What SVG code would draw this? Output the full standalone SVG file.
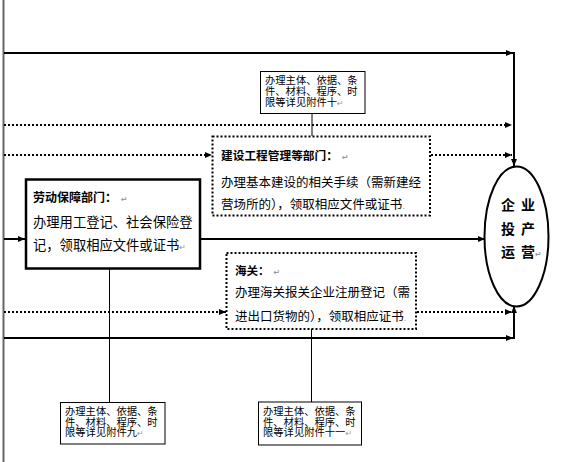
<svg xmlns="http://www.w3.org/2000/svg" width="572" height="462" viewBox="0 0 572 462">
<style>
.solid{stroke:#000;stroke-width:2;fill:none}
.dot{stroke:#000;stroke-width:2;fill:none;stroke-dasharray:2 2}
.thin{stroke:#000;stroke-width:1;fill:none}
.t{font-family:"Noto Sans CJK SC",sans-serif;fill:#000}
.b{font-weight:bold}
.n{font-family:"Noto Sans CJK SC",sans-serif;font-size:10.3px;fill:#000}
.pm{fill:#999;font-family:"DejaVu Sans",sans-serif;font-size:8px}
</style>
<defs>
<marker id="ah" markerWidth="8" markerHeight="8" refX="7" refY="4" orient="auto" markerUnits="userSpaceOnUse">
<path d="M0,1 L7,4 L0,7 Z" fill="#000"/>
</marker>
</defs>
<rect width="572" height="462" fill="#fff"/>
<g id="connectors">
<line x1="3.5" y1="0" x2="3.5" y2="462" stroke="#666" stroke-width="2"/>
<line class="solid" x1="4" y1="53" x2="513" y2="53" marker-end="url(#ah)"/>
<line class="solid" x1="514" y1="52" x2="514" y2="166" marker-end="url(#ah)"/>
<line class="dot" x1="4" y1="125" x2="512" y2="125" marker-end="url(#ah)"/>
<line class="dot" x1="4" y1="155" x2="212" y2="155" marker-end="url(#ah)"/>
<line class="dot" x1="431" y1="155" x2="512" y2="155" marker-end="url(#ah)"/>
<line class="solid" x1="4" y1="239" x2="25" y2="239" marker-end="url(#ah)"/>
<line class="solid" x1="201" y1="239" x2="485" y2="239" marker-end="url(#ah)"/>
<line class="dot" x1="4" y1="312" x2="226" y2="312" marker-end="url(#ah)"/>
<line class="dot" x1="417" y1="312" x2="512" y2="312" marker-end="url(#ah)"/>
<line class="solid" x1="4" y1="338" x2="513" y2="338" marker-end="url(#ah)"/>
<line class="solid" x1="514" y1="339" x2="514" y2="306" marker-end="url(#ah)"/>
<line class="thin" x1="312" y1="113" x2="312" y2="136"/>
<line class="thin" x1="109.5" y1="269" x2="109.5" y2="402"/>
<line class="thin" x1="311.5" y1="329" x2="311.5" y2="402"/>
</g>
<g id="note-top">
<rect class="thin" x="260.5" y="71.5" width="104.5" height="42" fill="#fff"/>
<text class="n"><tspan x="265" y="84">办理主体、依据、条</tspan><tspan x="265" y="95">件、材料、程序、时</tspan><tspan x="265" y="106">限等详见附件十<tspan class="pm">↵</tspan></tspan></text>
</g>
<g id="box-construction">
<rect class="dot" x="212.5" y="136.5" width="217.5" height="79" fill="#fff"/>
<text class="t b" x="221" y="160" font-size="11.7">建设工程管理等部门：<tspan class="pm" dx="4">↵</tspan></text>
<text class="t" x="221" y="187" font-size="12.5">办理基本建设的相关手续（需新建经</text>
<text class="t" x="221" y="209" font-size="12.5">营场所的），领取相应文件或证书<tspan class="pm">.</tspan></text>
</g>
<g id="box-labor">
<rect x="26" y="179.5" width="174" height="89" fill="#fff" stroke="#000" stroke-width="2.5"/>
<text class="t b" x="33" y="201.5" font-size="12">劳动保障部门：<tspan class="pm" dx="4">↵</tspan></text>
<text class="t" x="33" y="226.5" font-size="13.3">办理用工登记、社会保险登</text>
<text class="t" x="33" y="250" font-size="13.3">记，领取相应文件或证书<tspan class="pm">↵</tspan></text>
</g>
<g id="box-customs">
<rect class="dot" x="226.5" y="253" width="189.5" height="76" fill="#fff"/>
<text class="t b" x="235" y="275" font-size="11.5">海关：<tspan class="pm" dx="4">↵</tspan></text>
<text class="t" x="235" y="297" font-size="12.5">办理海关报关企业注册登记（需</text>
<text class="t" x="235" y="321" font-size="12.5">进出口货物的），领取相应证书<tspan class="pm">.</tspan></text>
</g>
<g id="ellipse-enterprise">
<ellipse cx="516.5" cy="236.5" rx="32" ry="70" fill="#fff" stroke="#000" stroke-width="2"/>
<text class="t b" font-size="14"><tspan x="501" y="210">企</tspan><tspan x="521" y="210">业</tspan><tspan x="501" y="234">投</tspan><tspan x="521" y="234">产</tspan><tspan x="501" y="257">运</tspan><tspan x="521" y="257">营<tspan class="pm">↵</tspan></tspan></text>
</g>
<g id="note-left">
<rect class="thin" x="60.5" y="402.5" width="104.5" height="41.5" fill="#fff"/>
<text class="n"><tspan x="65" y="414.5">办理主体、依据、条</tspan><tspan x="65" y="425.5">件、材料、程序、时</tspan><tspan x="65" y="436">限等详见附件九<tspan class="pm">↵</tspan></tspan></text>
</g>
<g id="note-right">
<rect class="thin" x="258.5" y="402" width="103" height="43" fill="#fff"/>
<text class="n"><tspan x="263" y="414.5">办理主体、依据、条</tspan><tspan x="263" y="425.5">件、材料、程序、时</tspan><tspan x="263" y="436">限等详见附件十一<tspan class="pm">↵</tspan></tspan></text>
</g>
</svg>
